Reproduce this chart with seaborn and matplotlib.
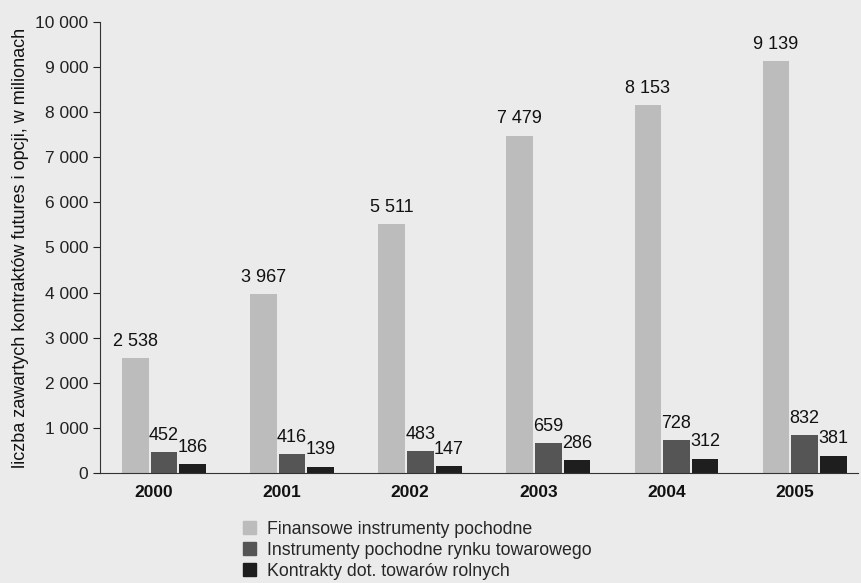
import numpy as np
import pandas as pd
import matplotlib.pyplot as plt
import matplotlib.transforms as mtransforms
import seaborn as sns

# data (millions of contracts)
years = ["2000", "2001", "2002", "2003", "2004", "2005"]
series = ["Finansowe instrumenty pochodne",
          "Instrumenty pochodne rynku towarowego",
          "Kontrakty dot. towarów rolnych"]
financial = [2538, 3967, 5511, 7479, 8153, 9139]
commodity = [452, 416, 483, 659, 728, 832]
agri = [186, 139, 147, 286, 312, 381]
colors = ["#bcbcbc", "#555555", "#1e1e1e"]

df = pd.DataFrame({
    "rok": years * 3,
    "seria": np.repeat(series, len(years)),
    "wartosc": financial + commodity + agri,
})

sns.set_style("ticks")
plt.rcParams['font.family'] = ['Liberation Sans', 'DejaVu Sans']

bg = "#ebebeb"
fig = plt.figure(figsize=(8.61, 5.83), dpi=100, facecolor=bg)
ax = fig.add_axes([0.116, 0.189, 0.881, 0.773], facecolor=bg)

sns.barplot(data=df, x="rok", y="wartosc", hue="seria", palette=colors,
            width=0.67, gap=0.07, saturation=1, linewidth=0, ax=ax, legend=False)

for cont in ax.containers:
    labels = [f"{v:,.0f}".replace(",", " ") for v in cont.datavalues]
    ax.bar_label(cont, labels=labels, padding=6, fontsize=13, color="#111111")

ax.set_ylim(0, 10000)
ax.set_xlim(-0.5, 5.42)
ax.set_yticks(range(0, 10001, 1000))
ax.set_yticklabels([f"{v:,}".replace(",", " ") for v in range(0, 10001, 1000)])
ax.tick_params(axis="y", labelsize=12.5, length=5, width=0.8, colors="#222222")
ax.tick_params(axis="x", labelsize=12.5, length=0, pad=9, colors="#111111")
shift = mtransforms.ScaledTranslation(-0.1, 0, fig.dpi_scale_trans)
for lbl in ax.get_xticklabels():
    lbl.set_fontweight("bold")
    lbl.set_transform(lbl.get_transform() + shift)
ax.set_xlabel("")
ax.set_ylabel("liczba zawartych kontraktów futures i opcji, w milionach",
              fontsize=13, labelpad=4, color="#111111")
sns.despine(ax=ax)
ax.spines["left"].set_color("#333333")
ax.spines["bottom"].set_color("#333333")

handles = [plt.Rectangle((0, 0), 1, 1, color=c) for c in colors]
fig.legend(handles, series, loc="upper left", bbox_to_anchor=(0.272, 0.122),
           frameon=False, fontsize=12.8, handlelength=0.75, handleheight=0.75,
           handletextpad=0.6, labelspacing=0.22, borderpad=0)

fig.savefig("out.png", dpi=100, facecolor=bg)
